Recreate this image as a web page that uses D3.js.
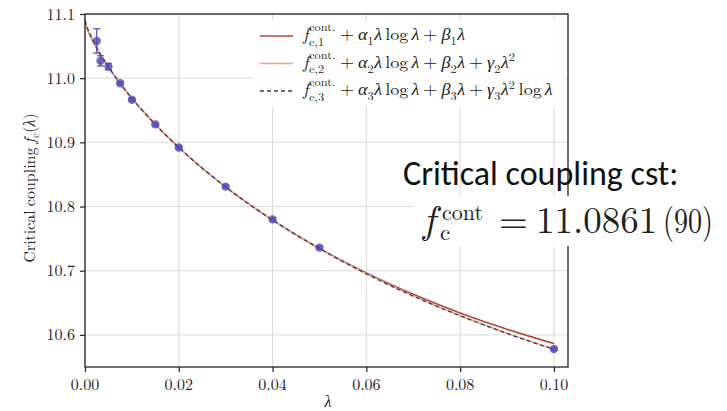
<!DOCTYPE html>
<html>
<head>
<meta charset="utf-8">
<script src="https://cdn.jsdelivr.net/npm/d3@7"></script>
<style>
  body { margin: 0; background: #ffffff; }
  svg { display: block; }
</style>
</head>
<body>
<svg id="chart" width="727" height="411"></svg>
<script>
// Measured critical couplings with their error bars
const lambdas  = [0.0025, 0.0033, 0.005, 0.0075, 0.01, 0.015, 0.02, 0.03, 0.04, 0.05, 0.1];
const fcValues = [11.058, 11.027, 11.018, 10.992, 10.9665, 10.928, 10.892, 10.831, 10.780, 10.736, 10.578];
const fcErrors = [0.019, 0.008, 0.005, 0.002, 0.002, 0.002, 0.002, 0.002, 0.002, 0.002, 0.002];

// Fitted curves, sampled along lambda
const fitLambdas = [0, 0.0005, 0.001, 0.0025, 0.005, 0.0075, 0.01, 0.015, 0.02, 0.03, 0.04, 0.05, 0.06, 0.07, 0.08, 0.09, 0.1];
const fit1 = [11.0861, 11.0758, 11.0676, 11.0466, 11.0173, 10.9918, 10.9688, 10.9279, 10.8920, 10.8305, 10.7790, 10.7349, 10.6966, 10.6633, 10.6342, 10.6087, 10.5865];
const fit2 = [11.0861, 11.0758, 11.0676, 11.0466, 11.0173, 10.9918, 10.9688, 10.9279, 10.8920, 10.8305, 10.7790, 10.7345, 10.6955, 10.6608, 10.6302, 10.6027, 10.5780];
const fit3 = [11.0900, 11.0785, 11.0698, 11.0476, 11.0176, 10.9918, 10.9688, 10.9279, 10.8920, 10.8305, 10.7790, 10.7345, 10.6952, 10.6604, 10.6298, 10.6022, 10.5775];

const xTicks = [0, 0.02, 0.04, 0.06, 0.08, 0.10];
const yTicks = [10.6, 10.7, 10.8, 10.9, 11.0, 11.1];

const fcCont = "11.0861";
const fcContErr = "(90)";

const SERIF = "'Latin Modern Roman', 'Liberation Serif'";
const SANS = "'Carlito', 'Lato'";

const svg = d3.select("#chart");
const plot = { left: 85, right: 568, top: 14, bottom: 367 };

const x = d3.scaleLinear().domain([0, 0.103]).range([plot.left, plot.right]);
const y = d3.scaleLinear().domain([10.55, 11.1]).range([plot.bottom, plot.top]);

function mtext(g, x0, y0, size, italic, str) {
  return g.append("text").attr("x", x0).attr("y", y0)
    .attr("font-family", SERIF).style("font-family", SERIF).style("font-size", size + "px")
    .style("font-style", italic ? "italic" : "normal").attr("fill", "#222").text(str);
}

// grid
const grid = svg.append("g").attr("stroke", "#d9d9d9").attr("stroke-width", 1);
grid.selectAll(".gx").data(xTicks).join("line")
  .attr("x1", d => x(d)).attr("x2", d => x(d))
  .attr("y1", plot.top).attr("y2", plot.bottom);
grid.selectAll(".gy").data(yTicks).join("line")
  .attr("x1", plot.left).attr("x2", plot.right)
  .attr("y1", d => y(d)).attr("y2", d => y(d));

// axes: tick marks from d3, labels set in the serif face
const xAxis = svg.append("g").attr("transform", `translate(0,${plot.bottom})`)
  .call(d3.axisBottom(x).tickValues(xTicks).tickFormat("").tickSize(5));
const yAxis = svg.append("g").attr("transform", `translate(${plot.left},0)`)
  .call(d3.axisLeft(y).tickValues(yTicks).tickFormat("").tickSize(5));
[xAxis, yAxis].forEach(a => {
  a.select(".domain").remove();
  a.selectAll(".tick line").attr("stroke", "#222").attr("stroke-width", 1.2);
  a.selectAll(".tick text").remove();
});
const fx = d3.format(".2f"), fy = d3.format(".1f");
xTicks.forEach(t => mtext(svg, x(t), 390, 16, false, fx(t)).attr("text-anchor", "middle"));
yTicks.forEach(t => mtext(svg, 75, y(t) + 5.5, 16, false, fy(t)).attr("text-anchor", "end"));

// fitted curves
const seriesData = fs => fitLambdas.map((l, i) => [l, fs[i]]);
const line = d3.line().x(d => x(d[0])).y(d => y(d[1])).curve(d3.curveMonotoneX);
const curves = [
  { values: fit1, color: "#b0473a", width: 1.5, dash: null },
  { values: fit2, color: "#f2a47a", width: 1.6, dash: null },
  { values: fit3, color: "#343a68", width: 1.3, dash: "4,3" }
];
curves.forEach(c => {
  svg.append("path").datum(seriesData(c.values))
    .attr("d", line).attr("fill", "none")
    .attr("stroke", c.color).attr("stroke-width", c.width)
    .attr("stroke-dasharray", c.dash);
});

// data points with error bars
const pts = lambdas.map((l, i) => ({ l, v: fcValues[i], e: fcErrors[i] }));
const ptColor = "#5546b0";
const eb = svg.append("g").attr("stroke", ptColor).attr("stroke-width", 1.4).attr("opacity", 0.85);
eb.selectAll(".v").data(pts).join("line")
  .attr("x1", d => x(d.l)).attr("x2", d => x(d.l))
  .attr("y1", d => y(d.v - d.e)).attr("y2", d => y(d.v + d.e));
["lo", "hi"].forEach(k => {
  eb.selectAll(".c" + k).data(pts).join("line")
    .attr("x1", d => x(d.l) - 3.5).attr("x2", d => x(d.l) + 3.5)
    .attr("y1", d => y(k === "lo" ? d.v - d.e : d.v + d.e))
    .attr("y2", d => y(k === "lo" ? d.v - d.e : d.v + d.e));
});
svg.append("g").selectAll("circle").data(pts).join("circle")
  .attr("cx", d => x(d.l)).attr("cy", d => y(d.v)).attr("r", 4.2)
  .attr("fill", ptColor).attr("fill-opacity", 0.8);

// frame
svg.append("rect").attr("x", plot.left).attr("y", plot.top)
  .attr("width", plot.right - plot.left).attr("height", plot.bottom - plot.top)
  .attr("fill", "none").attr("stroke", "#222").attr("stroke-width", 1.3);

// typeset a little math: pieces are plain runs, gaps, or stacked sup/sub
function drawMath(g, x0, y0, parts, base) {
  let cx = x0;
  parts.forEach(p => {
    if (p.gap) { cx += p.gap; return; }
    if (p.sup !== undefined || p.sub !== undefined) {
      let w = 0;
      const s = p.scale || 0.68;
      if (p.sup) {
        const t = mtext(g, cx, y0 - base * (p.supRise || 0.4), base * s, false, p.sup);
        w = Math.max(w, t.node().getComputedTextLength());
      }
      if (p.sub) {
        const t = mtext(g, cx, y0 + base * (p.subDrop || 0.25), base * s, false, p.sub);
        w = Math.max(w, t.node().getComputedTextLength());
      }
      cx += w + (p.after || 0.5);
      return;
    }
    const t = mtext(g, cx, y0, base, p.it, p.t);
    cx += t.node().getComputedTextLength() + (p.after || 0);
  });
  return cx - x0;
}

// legend
const legend = svg.append("g");
legend.append("rect").attr("x", 253).attr("y", 20).attr("width", 312).attr("height", 87)
  .attr("fill", "#ffffff").attr("fill-opacity", 0.9);
const op = 3.6, sp = 2.8;
const head = i => [
  { t: "f", it: true, after: 0.5 }, { sup: "cont.", sub: "c," + i, supRise: 0.55, subDrop: 0.33 },
  { gap: op }, { t: "+" }, { gap: op },
  { t: "α", it: true }, { sub: String(i), subDrop: 0.28 }, { t: "λ", it: true }, { gap: sp },
  { t: "log" }, { gap: sp }, { t: "λ", it: true }, { gap: op }, { t: "+" }, { gap: op },
  { t: "β", it: true }, { sub: String(i), subDrop: 0.28 }, { t: "λ", it: true }
];
const legendRows = [
  { color: "#b0473a", dash: null, parts: head(1) },
  { color: "#f2a47a", dash: null, parts: head(2).concat([{ gap: op }, { t: "+" }, { gap: op },
      { t: "γ", it: true }, { sub: "2", subDrop: 0.28 }, { t: "λ", it: true }, { sup: "2", supRise: 0.42 }]) },
  { color: "#343a68", dash: "4,3", parts: head(3).concat([{ gap: op }, { t: "+" }, { gap: op },
      { t: "γ", it: true }, { sub: "3", subDrop: 0.28 }, { t: "λ", it: true }, { sup: "2", supRise: 0.42 },
      { gap: sp }, { t: "log" }, { gap: sp }, { t: "λ", it: true }]) }
];
legendRows.forEach((r, i) => {
  const ly = 36 + i * 27.5;
  legend.append("line").attr("x1", 260).attr("x2", 293).attr("y1", ly).attr("y2", ly)
    .attr("stroke", r.color).attr("stroke-width", 1.6).attr("stroke-dasharray", r.dash);
  // entries are set slightly wide, as the figure's legend text is
  const eg = legend.append("g").attr("transform", "translate(303,0) scale(1.1,1)");
  drawMath(eg, 0, ly + 4.5, r.parts, 16.5);
});

// axis labels
mtext(svg, 328, 407, 16, true, "λ").attr("text-anchor", "middle");
const yl = svg.append("g");
const ylw = drawMath(yl, 0, 0, [
  { t: "Critical", after: 4 }, { t: "coupling", after: 4 }, { t: "f", it: true, after: 0.5 }, { sub: "c", subDrop: 0.25 },
  { t: "(" }, { t: "λ", it: true }, { t: ")" }
], 16);
yl.attr("transform", `translate(35,${188 + ylw / 2}) rotate(-90)`);

// annotation
svg.append("text").attr("x", 403).attr("y", 185)
  .style("font-family", SANS).style("font-size", "34px").attr("fill", "#111")
  .text("Critical coupling cst:");
const box = svg.append("g");
box.append("rect").attr("x", 413).attr("y", 196).attr("width", 310).attr("height", 50).attr("fill", "#ffffff");
mtext(box, 423, 233, 40, true, "f");
mtext(box, 442, 220, 22, false, "cont");
mtext(box, 440, 240, 23, false, "c");
mtext(box, 499, 233, 37, false, "=");
mtext(box, 536, 233, 37, false, fcCont);
mtext(box, 663, 233, 36, false, fcContErr).attr("textLength", 50).attr("lengthAdjust", "spacingAndGlyphs");
</script>
</body>
</html>
